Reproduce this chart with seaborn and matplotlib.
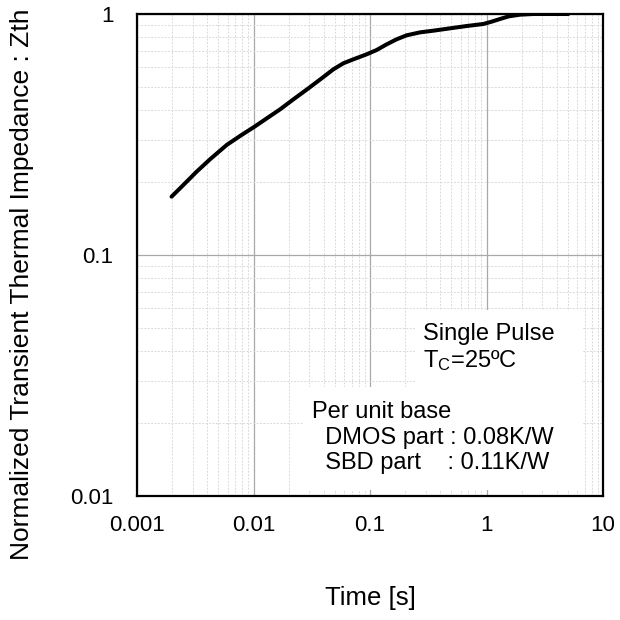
import matplotlib
matplotlib.use("Agg")
import matplotlib.pyplot as plt
import seaborn as sns
import pandas as pd
from matplotlib.patches import Rectangle

time_s = [0.00198, 0.0025, 0.00325, 0.00423, 0.00588, 0.00766, 0.0102, 0.013, 0.0169, 0.022,
          0.0296, 0.0385, 0.0485, 0.059, 0.0719, 0.0936, 0.114, 0.139, 0.169, 0.206,
          0.269, 0.35, 0.486, 0.676, 0.939, 1.107, 1.306, 1.555, 1.94, 2.52, 5.04]
zth = [0.1746, 0.1952, 0.2217, 0.2494, 0.286, 0.3118, 0.3407, 0.369, 0.402, 0.4425,
       0.4915, 0.541, 0.5895, 0.6243, 0.6485, 0.6803, 0.7088, 0.7484, 0.785, 0.8156,
       0.8392, 0.8527, 0.872, 0.8916, 0.9089, 0.9294, 0.9534, 0.978, 0.9936, 1.0, 1.0]

x_ticks = [0.001, 0.01, 0.1, 1, 10]
x_tick_labels = ["0.001", "0.01", "0.1", "1", "10"]
y_ticks = [0.01, 0.1, 1]
y_tick_labels = ["0.01", "0.1", "1"]

x_label = "Time [s]"
y_label = "Normalized Transient Thermal Impedance : Zth"
note1 = "Single Pulse\nT$_{\\mathrm{C}}$=25ºC"
note2 = "Per unit base\n  DMOS part : 0.08K/W\n  SBD part    : 0.11K/W"

sns.set_style("white")
plt.rcParams["font.family"] = ["Liberation Sans", "DejaVu Sans"]
plt.rcParams["mathtext.fontset"] = "custom"
plt.rcParams["mathtext.rm"] = "Liberation Sans"
plt.rcParams["mathtext.it"] = "Liberation Sans"
plt.rcParams["text.color"] = "black"

df = pd.DataFrame({"t": time_s, "z": zth})

fig = plt.figure(figsize=(6.2, 6.2), dpi=100)
ax = fig.add_axes([137/620, 1 - 496/620, 466/620, 482/620])

sns.lineplot(data=df, x="t", y="z", ax=ax, color="black", lw=2.9, zorder=5)
ax.lines[-1].set_solid_joinstyle("round")
ax.lines[-1].set_solid_capstyle("round")
ax.set_xscale("log")
ax.set_yscale("log")
ax.set_xlim(0.001, 10)
ax.set_ylim(0.01, 1)

ax.grid(which="major", color="#a8a8a8", lw=0.9, ls="-", zorder=0)
ax.grid(which="minor", color="#dadada", lw=0.7, ls=(0, (2, 1.5)), zorder=0)
ax.set_axisbelow(True)

ax.set_xticks(x_ticks)
ax.set_xticklabels(x_tick_labels)
ax.set_yticks(y_ticks)
ax.set_yticklabels(y_tick_labels)
ax.tick_params(which="both", length=0, labelsize=16, colors="black")
ax.tick_params(axis="x", pad=14)
ax.tick_params(axis="y", pad=17)

for s in ax.spines.values():
    s.set_visible(True)
    s.set_color("black")
    s.set_linewidth(1.6)

ax.set_xlabel("")
ax.set_ylabel("")
fig.text(370/620, 1 - 598/620, x_label, fontsize=18.5, ha="center", va="center", color="black")
fig.text(22/620, 1 - 284/620, y_label, rotation=90, fontsize=19, ha="center", va="center", color="black")

ax.add_patch(Rectangle((0.597, 0.226), 0.36, 0.16, transform=ax.transAxes, facecolor="white", edgecolor="none", zorder=2))
ax.add_patch(Rectangle((0.356, 0.0124), 0.601, 0.2136, transform=ax.transAxes, facecolor="white", edgecolor="none", zorder=2))

ax.text(0.614, 0.307, note1, transform=ax.transAxes, fontsize=17, ha="left", va="center", linespacing=1.2, zorder=6, color="black")
ax.text(0.376, 0.121, note2, transform=ax.transAxes, fontsize=17, ha="left", va="center", linespacing=1.22, zorder=6, color="black")

fig.savefig("out.png", dpi=100)
